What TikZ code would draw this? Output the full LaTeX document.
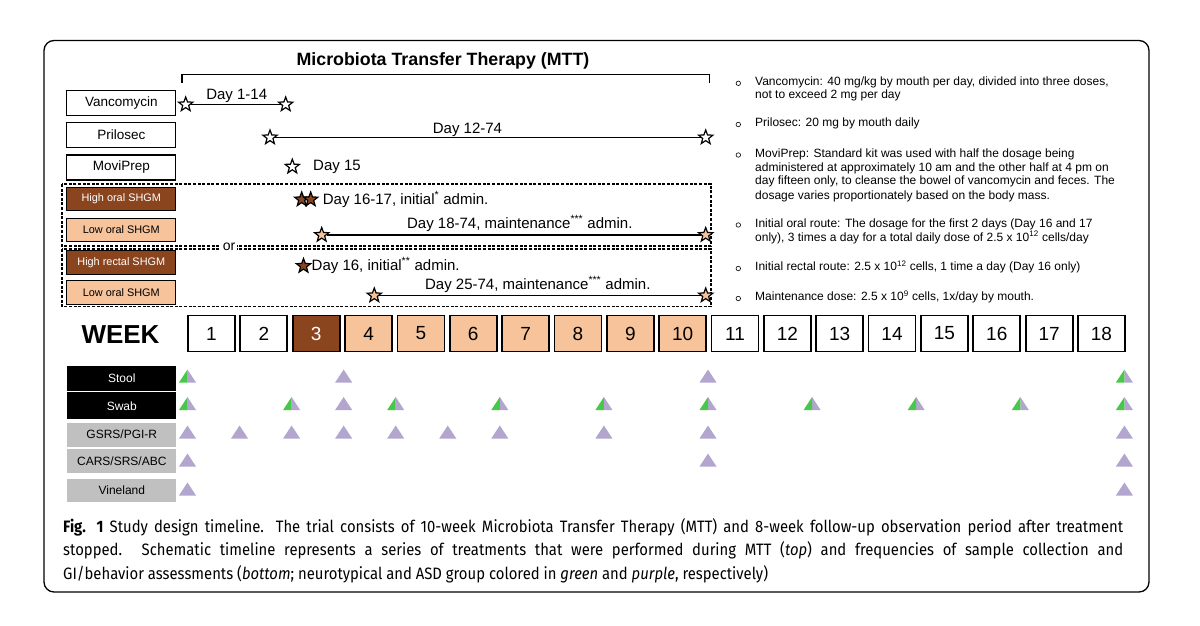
\documentclass[tikz,border=0pt]{standalone}
\usepackage{fontspec}
\setmainfont{Liberation Sans}
\newfontfamily\capfont[FakeStretch=0.9]{Fira Sans}
\usetikzlibrary{shapes.geometric}
\definecolor{brn}{RGB}{139,69,30}
\definecolor{pch}{RGB}{246,195,155}
\definecolor{purp}{RGB}{178,166,206}
\definecolor{grn}{RGB}{72,200,72}
\definecolor{gry}{RGB}{192,192,192}
\begin{document}
\begin{tikzpicture}[x=1pt,y=-1pt,
  lab/.style={draw, line width=1.3pt, minimum width=109pt, minimum height=25pt, inner sep=0pt, font=\fontsize{13.5}{15}\selectfont},
  slab/.style={lab, minimum height=23.5pt, font=\fontsize{10.9}{13}\selectfont},
  st/.style={star, star points=5, star point ratio=2.4, draw, line width=1.2pt, minimum size=15pt, inner sep=0pt, fill=white},
  day/.style={font=\fontsize{15}{17}\selectfont, inner sep=0pt},
  conn/.style={line width=1.2pt},
  dbox/.style={line width=1.1pt, dash pattern=on 3pt off 1.6pt},
  wk/.style={draw, line width=1.8pt, minimum width=47pt, minimum height=36pt, inner sep=0pt, font=\fontsize{19}{21}\selectfont},
  note/.style={anchor=base west, inner sep=0pt, font=\fontsize{12}{14}\selectfont},
  bul/.style={circle, draw, line width=0.6pt, minimum size=4.5pt, inner sep=0pt},
  row/.style={minimum width=109pt, inner sep=0pt, font=\fontsize{12}{14}\selectfont},
  blk/.style={row, fill=black, text=white},
  gbx/.style={row, fill=gry},
  captxt/.style={anchor=base west, inner sep=0pt, font=\capfont\fontsize{16.5}{18}\selectfont},
  ptri/.pic={\fill[purp] (-8.5,6.5) -- (8.5,6.5) -- (0,-6.5) -- cycle;},
  gtri/.pic={\fill[purp] (0,6.5) -- (8.5,6.5) -- (0,-6.5) -- cycle;
             \fill[grn] (-8.5,6.5) -- (0,6.5) -- (0,-6.5) -- cycle;}
]
\useasboundingbox (0,0) rectangle (1200,626);
\draw[line width=1.3pt, rounded corners=10pt] (44,40.5) rectangle (1149,592);

% title and bracket
\node[font=\fontsize{17.8}{20}\selectfont\bfseries, inner sep=0pt] (title) at (443,61) {Microbiota Transfer Therapy (MTT)};
\coordinate (bl) at (182,83);
\coordinate (br) at (709.3,83);
\draw[conn] (bl) -- (182,74.3) -- (709.3,74.3) -- (br);

% treatment labels
\node[lab] (vanc) at (121.3,103) {Vancomycin};
\node[lab] (pril) at (121.3,135) {Prilosec};
\node[lab] (movi) at (121.3,167.5) {MoviPrep};
\node[slab, fill=brn, text=white] (hos) at (121.3,199) {High oral SHGM};
\node[slab, fill=pch] (los) at (121.3,230) {Low oral SHGM};
\node[slab, fill=brn, text=white] (hrs) at (121.3,262.5) {High rectal SHGM};
\node[slab, fill=pch] (los2) at (121.3,292.5) {Low oral SHGM};

% dashed groups
\draw[dbox] (62,184) rectangle (711,246);
\draw[dbox] (62,249) rectangle (711,306.5);
\node[fill=white, inner sep=1.5pt, font=\fontsize{14}{16}\selectfont] (or) at (229,246.5) {or};

% vancomycin
\node[st] (v1) at (185.7,104.5) {};
\node[st] (v2) at (285.7,104.5) {};
\draw[conn] (v1) -- (v2);
\node[day] (vt) at (236.7,96) {Day 1-14};
% prilosec
\node[st] (p1) at (270,137.5) {};
\node[st] (p2) at (705.7,137.5) {};
\draw[conn] (p1) -- (p2);
\node[day] (pt) at (467.5,129.5) {Day 12-74};
% moviprep
\node[st] (m1) at (292.3,166.7) {};
\node[day, anchor=west] (mt) at (313,167) {Day 15};
% high oral
\node[st, fill=brn] (h1) at (301.7,199.5) {};
\node[st, fill=brn] (h2) at (310.7,199.5) {};
\node[day, anchor=west] (ht) at (322.7,199.5) {Day 16-17, initial\textsuperscript{*} admin.};
% low oral
\node[st, fill=pch] (l1) at (321.7,235) {};
\node[st, fill=pch] (l2) at (705.7,235) {};
\draw[conn] (l1) -- (l2);
\node[day, anchor=east] (lt) at (632.7,223.5) {Day 18-74, maintenance\textsuperscript{***} admin.};
% high rectal
\node[st, fill=brn] (r1) at (303.5,266) {};
\node[day, anchor=west] (rt) at (311.5,265.5) {Day 16, initial\textsuperscript{**} admin.};
% low oral 2
\node[st, fill=pch] (k1) at (374.3,295.5) {};
\node[st, fill=pch] (k2) at (705.7,295.5) {};
\draw[conn] (k1) -- (k2);
\node[day, anchor=east] (kt) at (650.7,284.5) {Day 25-74, maintenance\textsuperscript{***} admin.};

% notes
\foreach \i/\y in {1/83.3, 2/124.5, 3/155, 4/225, 5/268.5, 6/298.5}
  \node[bul] (b\i) at (738.3,\y) {};
\node[note] (n1a) at (755,85.7) {Vancomycin: 40 mg/kg by mouth per day, divided into three doses,};
\node[note] (n1b) at (755,99) {not to exceed 2 mg per day};
\node[note] (n2) at (755,126.7) {Prilosec: 20 mg by mouth daily};
\node[note] (n3a) at (755,157.3) {MoviPrep: Standard kit was used with half the dosage being};
\node[note] (n3b) at (755,171.3) {administered at approximately 10 am and the other half at 4 pm on};
\node[note] (n3c) at (755,184.7) {day fifteen only, to cleanse the bowel of vancomycin and feces. The};
\node[note] (n3d) at (755,199) {dosage varies proportionately based on the body mass.};
\node[note] (n4a) at (755,227.3) {Initial oral route: The dosage for the first 2 days (Day 16 and 17};
\node[note] (n4b) at (755,241.3) {only), 3 times a day for a total daily dose of 2.5 x 10\textsuperscript{12} cells/day};
\node[note] (n5) at (755,270.7) {Initial rectal route: 2.5 x 10\textsuperscript{12} cells, 1 time a day (Day 16 only)};
\node[note] (n6) at (755,300.7) {Maintenance dose: 2.5 x 10\textsuperscript{9} cells, 1x/day by mouth.};

% weeks
\node[font=\fontsize{26}{28}\selectfont\bfseries, inner sep=0pt] (week) at (120.5,335) {WEEK};
\foreach \k in {1,2,11,12,13,14,15,16,17,18}
  \node[wk] (w\k) at ({211.5+52.35*(\k-1)},333.5) {\k};
\node[wk, fill=brn, text=white] (w3) at ({211.5+52.35*2},333.5) {3};
\foreach \k in {4,...,10}
  \node[wk, fill=pch] (w\k) at ({211.5+52.35*(\k-1)},333.5) {\k};

% assessment rows
\node[blk, minimum height=25pt] (stool) at (121.8,378.5) {Stool};
\node[blk, minimum height=27pt] (swab) at (121.8,405.8) {Swab};
\node[gbx, minimum height=24pt] (gsrs) at (121.8,434.7) {GSRS/PGI-R};
\node[gbx, minimum height=24pt] (cars) at (121.8,461.3) {CARS/SRS/ABC};
\node[gbx, minimum height=22.7pt] (vine) at (121.8,490.3) {Vineland};

% triangles
\foreach \k in {0,18} \pic at ({187.5+52.05*\k},376) {gtri};
\foreach \k in {3,10} \pic at ({187.5+52.05*\k},376) {ptri};
\foreach \k in {0,2,4,6,8,10,12,14,16,18} \pic at ({187.5+52.05*\k},403.5) {gtri};
\pic at ({187.5+52.05*3},403.5) {ptri};
\foreach \k in {0,1,2,3,4,5,6,8,10,18} \pic at ({187.5+52.05*\k},432) {ptri};
\foreach \k in {0,10,18} \pic at ({187.5+52.05*\k},460) {ptri};
\foreach \k in {0,18} \pic at ({187.5+52.05*\k},489) {ptri};

% caption
\node[captxt] (c1) at (63,532) {\makebox[1060pt][s]{\textbf{Fig. 1} Study design timeline. The trial consists of 10-week Microbiota Transfer Therapy (MTT) and 8-week follow-up observation period after treatment}};
\node[captxt] (c2) at (63,555.5) {\makebox[1060pt][s]{stopped. Schematic timeline represents a series of treatments that were performed during MTT (\textit{top}) and frequencies of sample collection and}};
\node[captxt] (c3) at (63,579) {GI/behavior assessments (\textit{bottom}; neurotypical and ASD group colored in \textit{green} and \textit{purple}, respectively)};
\end{tikzpicture}
\end{document}
